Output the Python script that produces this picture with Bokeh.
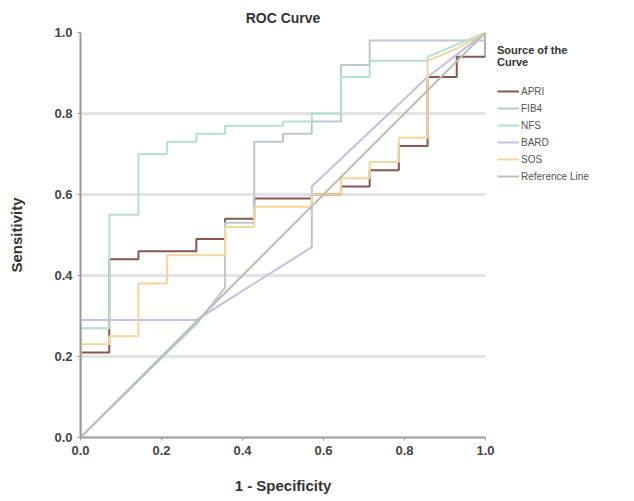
from bokeh.plotting import figure
from bokeh.models import Legend, LegendItem, FixedTicker, Grid, Range1d, CustomJSTickFormatter
from bokeh.embed import file_html
from bokeh.resources import INLINE

# ---- data ----
apri_x = [0, 0, 0.071, 0.071, 0.143, 0.143, 0.286, 0.286, 0.357, 0.357, 0.429, 0.429, 0.571, 0.571,
          0.643, 0.643, 0.714, 0.714, 0.786, 0.786, 0.857, 0.857, 0.929, 0.929, 1.0, 1.0]
apri_y = [0, 0.21, 0.21, 0.44, 0.44, 0.46, 0.46, 0.49, 0.49, 0.54, 0.54, 0.59, 0.59, 0.60,
          0.60, 0.62, 0.62, 0.66, 0.66, 0.72, 0.72, 0.89, 0.89, 0.94, 0.94, 1.0]

fib4_x = [0, 0.286, 0.357, 0.357, 0.429, 0.429, 0.5, 0.5, 0.571, 0.571, 0.643, 0.643, 0.714, 0.714, 1.0, 1.0]
fib4_y = [0, 0.28, 0.37, 0.53, 0.53, 0.73, 0.73, 0.75, 0.75, 0.78, 0.78, 0.92, 0.92, 0.98, 0.98, 1.0]

nfs_x = [0, 0, 0.071, 0.071, 0.143, 0.143, 0.214, 0.214, 0.286, 0.286, 0.357, 0.357, 0.5, 0.5,
         0.571, 0.571, 0.643, 0.643, 0.714, 0.714, 0.857, 0.857, 1.0]
nfs_y = [0, 0.27, 0.27, 0.55, 0.55, 0.70, 0.70, 0.73, 0.73, 0.75, 0.75, 0.77, 0.77, 0.78,
         0.78, 0.80, 0.80, 0.89, 0.89, 0.93, 0.93, 0.94, 1.0]

bard_x = [0, 0, 0.286, 0.571, 0.571, 0.857, 1.0]
bard_y = [0, 0.29, 0.29, 0.47, 0.62, 0.89, 1.0]

sos_x = [0, 0, 0.071, 0.071, 0.143, 0.143, 0.214, 0.214, 0.357, 0.357, 0.429, 0.429, 0.571, 0.571,
         0.643, 0.643, 0.714, 0.714, 0.786, 0.786, 0.857, 0.857, 0.929, 1.0]
sos_y = [0, 0.23, 0.23, 0.25, 0.25, 0.38, 0.38, 0.45, 0.45, 0.52, 0.52, 0.57, 0.57, 0.60,
         0.60, 0.64, 0.64, 0.68, 0.68, 0.74, 0.74, 0.93, 0.96, 1.0]

ref_x = [0, 1]
ref_y = [0, 1]

series_names = ["APRI", "FIB4", "NFS", "BARD", "SOS", "Reference Line"]
series_colors = ["#8a5454", "#bcc8ce", "#b3e0cf", "#c4bee2", "#f3d69a", "#b8c2b2"]
series_data = [(apri_x, apri_y), (fib4_x, fib4_y), (nfs_x, nfs_y),
               (bard_x, bard_y), (sos_x, sos_y), (ref_x, ref_y)]
tick_values = [0.0, 0.2, 0.4, 0.6, 0.8, 1.0]
grid_values = [0.2, 0.4, 0.6, 0.8]

FONT = "Liberation Sans"

p = figure(width=626, height=493, output_backend="svg", toolbar_location=None,
           x_range=Range1d(0, 1), y_range=Range1d(0, 1),
           min_border_left=80, min_border_top=32, min_border_bottom=56, min_border_right=141,
           frame_width=405, frame_height=405)
p.outline_line_color = None
p.background_fill_color = "white"
p.border_fill_color = "white"

p.title.text = "ROC Curve"
p.title.align = "center"
p.title.text_font = FONT
p.title.text_font_size = "14px"
p.title.text_font_style = "bold"
p.title.text_color = "#333333"
p.title.standoff = 14

p.xgrid.visible = False
p.ygrid.visible = False
g = Grid(dimension=1, ticker=FixedTicker(ticks=grid_values), grid_line_color="#e4e4e4",
         grid_line_width=3)
p.add_layout(g)

fmt = CustomJSTickFormatter(code="return tick.toFixed(1);")
for ax in (p.xaxis[0], p.yaxis[0]):
    ax.ticker = FixedTicker(ticks=tick_values)
    ax.formatter = fmt
    ax.minor_tick_line_color = None
    ax.axis_line_color = "#9a9a9a"
    ax.axis_line_width = 2
    ax.major_tick_line_color = "#9a9a9a"
    ax.major_tick_out = 3
    ax.major_tick_in = 0
    ax.major_label_text_font = FONT
    ax.major_label_text_font_size = "13px"
    ax.major_label_text_font_style = "bold"
    ax.major_label_text_color = "#444444"
    ax.axis_label_text_font = FONT
    ax.axis_label_text_font_size = "15px"
    ax.axis_label_text_font_style = "bold"
    ax.axis_label_text_color = "#333333"

p.xaxis[0].axis_label = "1 - Specificity"
p.yaxis[0].axis_label = "Sensitivity"
p.xaxis[0].major_label_standoff = 5
p.xaxis[0].axis_label_standoff = 19
p.yaxis[0].axis_label_standoff = 26

items = []
for name, color, (xs, ys) in zip(series_names, series_colors, series_data):
    r = p.line(xs, ys, line_color=color, line_width=2)
    items.append(LegendItem(label=name, renderers=[r]))

legend = Legend(items=items, location=(12, 255), orientation="vertical",
                title="Source of the\nCurve",
                title_text_font=FONT, title_text_font_size="11px", title_text_font_style="bold",
                title_text_color="#333333", title_standoff=17, title_text_align="center",
                label_text_font=FONT, label_text_font_size="10px", label_text_color="#555555",
                glyph_width=22, glyph_height=12, label_height=12, spacing=5,
                label_standoff=2, padding=0, margin=0,
                border_line_color=None, background_fill_alpha=0)
p.add_layout(legend, "right")

open("out.html", "w").write(file_html(p, INLINE))
